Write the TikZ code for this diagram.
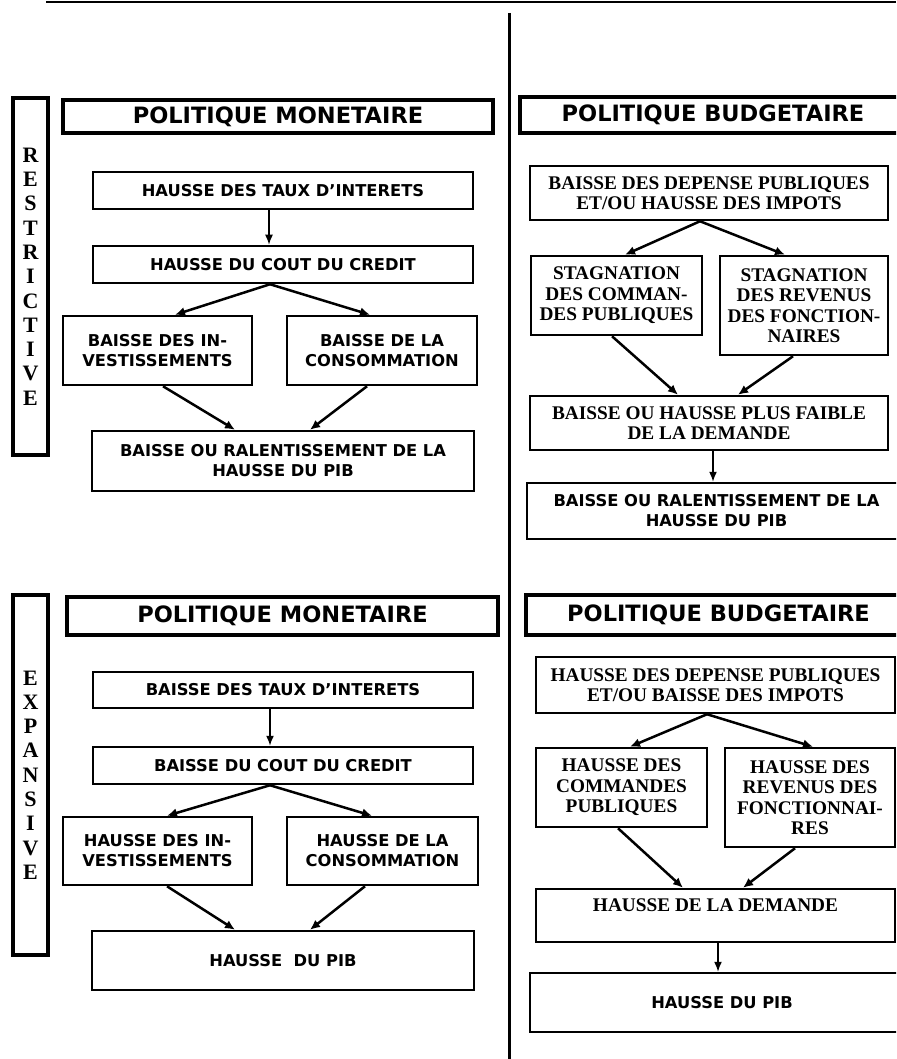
\documentclass[tikz,border=0pt]{standalone}
\usepackage{fontspec}
\newfontfamily\dvs{DejaVu Sans}
\newfontfamily\tms{Liberation Serif}
\usetikzlibrary{arrows.meta}
\begin{document}
\begin{tikzpicture}[x=1pt,y=-1pt,
  lbox/.style={draw, line width=2.5pt, inner sep=0pt, align=center, font=\dvs\bfseries\fontsize{16.3}{20}\selectfont},
  rbox/.style={draw, line width=2.5pt, inner sep=0pt, align=center, font=\tms\bfseries\fontsize{19.3}{20.5}\selectfont},
  head/.style={draw, line width=4.5pt, inner sep=0pt, align=center, font=\dvs\bfseries\fontsize{22.5}{26}\selectfont},
  side/.style={draw, line width=4.5pt, inner sep=0pt, align=center, font=\tms\bfseries\fontsize{22}{24.3}\selectfont},
  arr/.style={line width=2.5pt, -{Latex[length=10pt,width=9pt]}},
  varr/.style={line width=1.5pt, -{Latex[length=10pt,width=8pt]}},
  sz/.style 2 args={minimum width=#1pt, minimum height=#2pt}
]
\clip (0,0) rectangle (896,1059);
\useasboundingbox (0,0) rectangle (896,1059);
\fill[white] (0,0) rectangle (896,1059);

% frame lines
\coordinate (tl) at (46,2);
\coordinate (tr) at (896,2);
\coordinate (dt) at (509,13);
\coordinate (db) at (509,1059);
\draw[line width=2pt] (tl) -- (tr);
\draw[line width=3pt] (dt) -- (db);

% ===== RESTRICTIVE =====
\node[side, sz={35}{357}] (sideR) at (30.5,276.5) {R\\E\\S\\T\\R\\I\\C\\T\\I\\V\\E};

\node[head, sz={430}{33}] (pmA) at (278,116.5) {POLITIQUE MONETAIRE};
\node[lbox, sz={380}{37}] (tauxA) at (283,190.5) {HAUSSE DES TAUX D’INTERETS};
\node[lbox, sz={380}{37}] (coutA) at (283,264.5) {HAUSSE DU COUT DU CREDIT};
\node[lbox, sz={189}{69}] (invA) at (157.5,350.5) {BAISSE DES IN-\\VESTISSEMENTS};
\node[lbox, sz={190}{69}] (consA) at (382,350.5) {BAISSE DE LA\\CONSOMMATION};
\node[lbox, sz={382}{60}] (pibA) at (283,461) {BAISSE OU RALENTISSEMENT DE LA\\HAUSSE DU PIB};

\draw[varr] ([xshift=-14pt]tauxA.south) -- ([xshift=-14pt]coutA.north);
\draw[arr] ([xshift=-13pt]coutA.south) -- ([xshift=17.5pt]invA.north);
\draw[arr] ([xshift=-13pt]coutA.south) -- ([xshift=-12pt]consA.north);
\draw[arr] ([xshift=5.5pt]invA.south) -- ([xshift=-48pt]pibA.north);
\draw[arr] ([xshift=-15pt]consA.south) -- ([xshift=27pt]pibA.north);

\node[head, sz={386}{36}] (pbA) at (713,115) {POLITIQUE BUDGETAIRE};
\node[rbox, sz={358}{54}] (depA) at (709,193) {BAISSE DES DEPENSE PUBLIQUES\\ET/OU HAUSSE DES IMPOTS};
\node[rbox, sz={171}{79}] (comA) at (616.5,295.5) {STAGNATION\\DES COMMAN-\\DES PUBLIQUES};
\node[rbox, sz={168}{99}] (revA) at (804,305.5) {STAGNATION\\DES REVENUS\\DES FONCTION-\\NAIRES};
\node[rbox, sz={358}{54}] (demA) at (709,423) {BAISSE OU HAUSSE PLUS FAIBLE\\DE LA DEMANDE};
\node[lbox, sz={379}{56}] (pibB) at (716.5,511) {BAISSE OU RALENTISSEMENT DE LA\\HAUSSE DU PIB};

\draw[arr] ([xshift=-9pt]depA.south) -- ([xshift=8.5pt]comA.north);
\draw[arr] ([xshift=-9pt]depA.south) -- ([xshift=-19pt]revA.north);
\draw[arr] ([xshift=-4.5pt]comA.south) -- ([xshift=-31pt]demA.north);
\draw[arr] ([xshift=-11pt]revA.south) -- ([xshift=29pt]demA.north);
\draw[varr] ([xshift=4pt]demA.south) -- ([xshift=4pt]demA.south |- pibB.north);

% ===== EXPANSIVE =====
\node[side, sz={35}{360}] (sideE) at (30.5,775) {E\\X\\P\\A\\N\\S\\I\\V\\E};

\node[head, sz={431}{38}] (pmB) at (282.5,616) {POLITIQUE MONETAIRE};
\node[lbox, sz={380}{36}] (tauxB) at (283,690) {BAISSE DES TAUX D’INTERETS};
\node[lbox, sz={380}{37}] (coutB) at (283,765.5) {BAISSE DU COUT DU CREDIT};
\node[lbox, sz={189}{68}] (invB) at (157.5,851) {HAUSSE DES IN-\\VESTISSEMENTS};
\node[lbox, sz={191}{68}] (consB) at (382.5,851) {HAUSSE DE LA\\CONSOMMATION};
\node[lbox, sz={382}{59}] (pibC) at (283,960.5) {HAUSSE\ \ DU PIB};

\draw[varr] ([xshift=-13pt]tauxB.south) -- ([xshift=-13pt]coutB.north);
\draw[arr] ([xshift=-13pt]coutB.south) -- ([xshift=9.5pt]invB.north);
\draw[arr] ([xshift=-13pt]coutB.south) -- ([xshift=-10.5pt]consB.north);
\draw[arr] ([xshift=9.5pt]invB.south) -- ([xshift=-48pt]pibC.north);
\draw[arr] ([xshift=-17.5pt]consB.south) -- ([xshift=27pt]pibC.north);

\node[head, sz={385}{40}] (pbB) at (718.5,615) {POLITIQUE BUDGETAIRE};
\node[rbox, sz={359}{56}] (depB) at (715.5,685) {HAUSSE DES DEPENSE PUBLIQUES\\ET/OU BAISSE DES IMPOTS};
\node[rbox, sz={171}{79}] (comB) at (621.5,787.5) {HAUSSE DES\\COMMANDES\\PUBLIQUES};
\node[rbox, sz={170}{99}] (revB) at (810,797.5) {HAUSSE DES\\REVENUS DES\\FONCTIONNAI-\\RES};
\node[rbox, sz={359}{53}] (demB) at (715.5,915.5) {HAUSSE DE LA DEMANDE\\ {}};
\node[lbox, sz={384}{59}] (pibD) at (722,1002.5) {HAUSSE DU PIB};

\draw[arr] ([xshift=-8.5pt]depB.south) -- ([xshift=8.5pt]comB.north);
\draw[arr] ([xshift=-8.5pt]depB.south) -- ([xshift=3pt]revB.north);
\draw[arr] ([xshift=-3.5pt]comB.south) -- ([xshift=-32.5pt]demB.north);
\draw[arr] ([xshift=-15pt]revB.south) -- ([xshift=27.5pt]demB.north);
\draw[varr] ([xshift=2.5pt]demB.south) -- ([xshift=2.5pt]demB.south |- pibD.north);
\end{tikzpicture}
\end{document}
